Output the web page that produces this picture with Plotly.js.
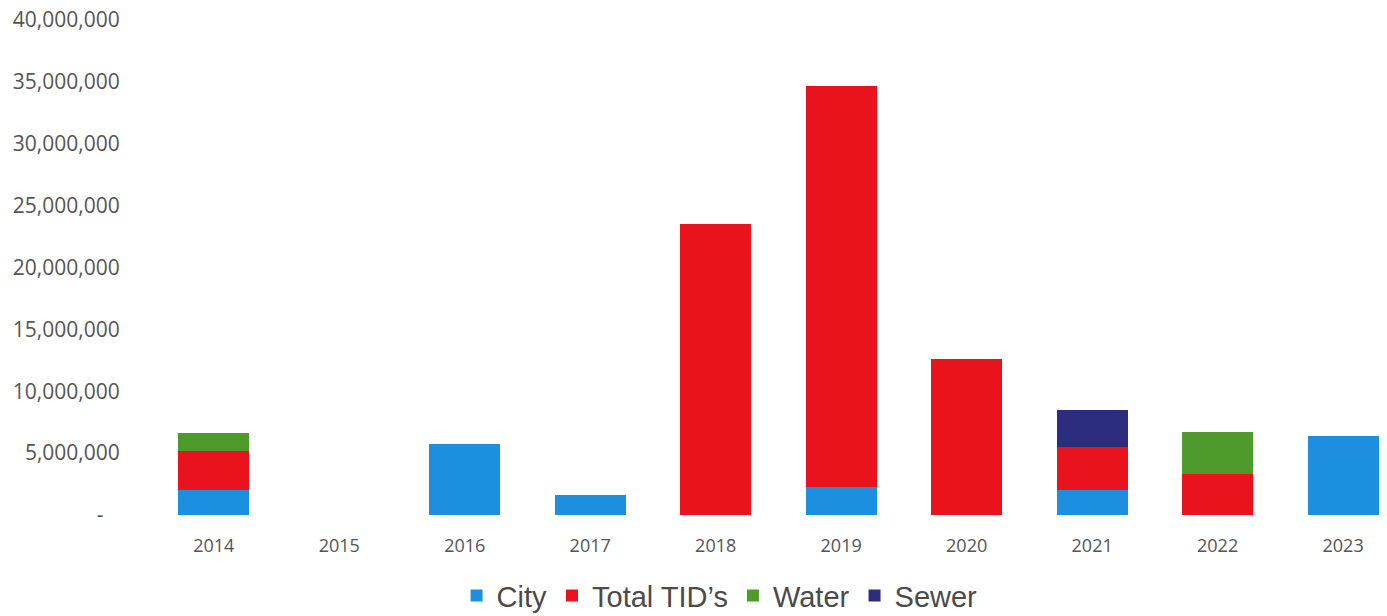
<!DOCTYPE html>
<html>
<head>
<meta charset="utf-8">
<script src="https://cdn.plot.ly/plotly-3.0.1.min.js"></script>
<style>html,body{margin:0;padding:0;background:#fff;}#chart{width:1387px;height:616px;}</style>
</head>
<body>
<div id="chart"></div>
<script>
const years = ["2014","2015","2016","2017","2018","2019","2020","2021","2022","2023"];
const city = [2.0e6, 0, 5.75e6, 1.6e6, 0, 2.3e6, 0, 2.0e6, 0, 6.4e6];
const tids = [3.2e6, 0, 0, 0, 23.5e6, 32.35e6, 12.6e6, 3.5e6, 3.3e6, 0];
const water = [1.4e6, 0, 0, 0, 0, 0, 0, 0, 3.4e6, 0];
const sewer = [0, 0, 0, 0, 0, 0, 0, 3.0e6, 0, 0];
const yTickVals = [0, 5e6, 10e6, 15e6, 20e6, 25e6, 30e6, 35e6, 40e6];
const yTickText = ["-\u00a0\u00a0\u00a0", "5,000,000", "10,000,000", "15,000,000", "20,000,000", "25,000,000", "30,000,000", "35,000,000", "40,000,000"];

const mk = (name, y, color) => ({type:'bar', name, x: years, y, marker:{color}, hoverinfo:'name+y'});
const data = [
  mk('City', city, '#1c8fdf'),
  mk('Total TID\u2019s', tids, '#e8131c'),
  mk('Water', water, '#4e9a2c'),
  mk('Sewer', sewer, '#2d2d80')
];
const layout = {
  barmode:'stack',
  bargap:0.435,
  width:1387, height:616,
  margin:{l:151, r:0, t:20, b:101, autoexpand:false},
  paper_bgcolor:'#fff', plot_bgcolor:'#fff',
  showlegend:true,
  legend:{orientation:'h', xref:'paper', yref:'paper', x:0.46, xanchor:'center', y:-0.163, yanchor:'middle',
    font:{family:'Liberation Sans, Arial, sans-serif', size:29, color:'#4a4a4a'}, itemwidth:30, traceorder:'normal'},
  xaxis:{type:'category', range:[-0.5, 9.35], showgrid:false, zeroline:false, showline:false,
    ticks:'outside', ticklen:14, tickcolor:'rgba(0,0,0,0)',
    tickfont:{family:'Open Sans, sans-serif', size:18, color:'#555'}},
  yaxis:{range:[0, 40e6], tickvals:yTickVals, ticktext:yTickText, showgrid:false, zeroline:false, showline:false,
    ticks:'outside', ticklen:26, tickcolor:'rgba(0,0,0,0)',
    tickfont:{family:'Open Sans, sans-serif', size:21, color:'#555'}}
};
Plotly.newPlot('chart', data, layout, {displayModeBar:false, staticPlot:true});
</script>
</body>
</html>
